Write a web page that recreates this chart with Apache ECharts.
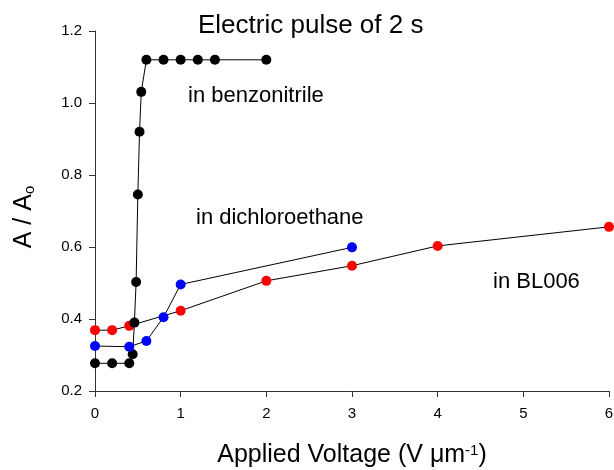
<!DOCTYPE html>
<html>
<head>
<meta charset="utf-8">
<script src="https://cdn.jsdelivr.net/npm/echarts@6/dist/echarts.min.js"></script>
<style>
  html, body { margin: 0; padding: 0; background: #fff; }
  #chart { width: 614px; height: 470px; }
</style>
</head>
<body>
<div id="chart"></div>
<script>
// Normalised absorbance A/Ao versus applied field, 2 s electric pulse
const benzonitrileX = [0, 0.2, 0.4, 0.44, 0.46, 0.48, 0.50, 0.52, 0.54, 0.6, 0.8, 1.0, 1.2, 1.4, 2.0];
const benzonitrileY = [0.277, 0.277, 0.277, 0.302, 0.390, 0.503, 0.746, 0.920, 1.031, 1.120, 1.120, 1.120, 1.120, 1.120, 1.120];

const dichloroethaneX = [0, 0.4, 0.6, 0.8, 1.0, 3.0];
const dichloroethaneY = [0.325, 0.323, 0.339, 0.405, 0.496, 0.599];

const bl006X = [0, 0.2, 0.4, 1.0, 2.0, 3.0, 4.0, 6.0];
const bl006Y = [0.369, 0.369, 0.381, 0.423, 0.506, 0.548, 0.603, 0.656];

const xTicks = { min: 0, max: 6, step: 1 };
const yTicks = { min: 0.2, max: 1.2, step: 0.2 };

const FONT = '"Liberation Sans", Arial, sans-serif';

function pairs(xs, ys) {
  return xs.map((x, i) => [x, ys[i]]);
}

function lineSeries(name, xs, ys, color, z) {
  return {
    name: name,
    type: 'line',
    data: pairs(xs, ys),
    symbol: 'circle',
    symbolSize: 10,
    z: z,
    lineStyle: { color: '#000', width: 1 },
    itemStyle: { color: color, borderWidth: 0 },
    emphasis: { disabled: true },
    animation: false
  };
}

const chart = echarts.init(document.getElementById('chart'), null, { renderer: 'canvas' });

chart.setOption({
  backgroundColor: '#fff',
  animation: false,
  textStyle: { fontFamily: FONT },
  grid: {
    left: 95, right: 5, top: 31, bottom: 79,
    containLabel: false, outerBoundsMode: 'none'
  },
  xAxis: {
    type: 'value',
    min: xTicks.min,
    max: xTicks.max,
    interval: xTicks.step,
    name: 'Applied Voltage (V \u03bcm{sup|-1})',
    nameLocation: 'middle',
    nameGap: 52,
    nameTextStyle: {
      fontFamily: FONT, fontSize: 25, color: '#000',
      rich: { sup: { fontFamily: FONT, fontSize: 15, color: '#000', verticalAlign: 'top' } }
    },
    axisLine: { show: true, onZero: false, lineStyle: { color: '#333', width: 1 } },
    axisTick: { show: true, inside: false, length: 6, lineStyle: { color: '#333' } },
    axisLabel: { color: '#000', fontSize: 15, fontFamily: FONT, margin: 15 },
    splitLine: { show: false }
  },
  yAxis: {
    type: 'value',
    min: yTicks.min,
    max: yTicks.max,
    interval: yTicks.step,
    name: 'A / A{sub|o}',
    nameLocation: 'middle',
    nameRotate: 90,
    nameGap: 58,
    nameTextStyle: {
      fontFamily: FONT, fontSize: 25, color: '#000', padding: [0, 12, 0, 0],
      rich: { sub: { fontFamily: FONT, fontSize: 15, color: '#000', verticalAlign: 'bottom' } }
    },
    axisLine: { show: true, onZero: false, lineStyle: { color: '#333', width: 1 } },
    axisTick: { show: true, inside: false, length: 6, lineStyle: { color: '#333' } },
    axisLabel: {
      color: '#000', fontSize: 15, fontFamily: FONT, margin: 13,
      formatter: v => v.toFixed(1)
    },
    splitLine: { show: false }
  },
  graphic: [
    { type: 'text', x: 198, y: 26,
      style: { text: 'Electric pulse of 2 s', font: '26px ' + FONT, fill: '#000', textVerticalAlign: 'middle' } },
    { type: 'text', x: 188, y: 96,
      style: { text: 'in benzonitrile', font: '22px ' + FONT, fill: '#000', textVerticalAlign: 'middle' } },
    { type: 'text', x: 196, y: 218,
      style: { text: 'in dichloroethane', font: '22px ' + FONT, fill: '#000', textVerticalAlign: 'middle' } },
    { type: 'text', x: 493, y: 282,
      style: { text: 'in BL006', font: '22px ' + FONT, fill: '#000', textVerticalAlign: 'middle' } }
  ],
  series: [
    lineSeries('in BL006', bl006X, bl006Y, '#ff0000', 2),
    lineSeries('in benzonitrile', benzonitrileX, benzonitrileY, '#000000', 3),
    lineSeries('in dichloroethane', dichloroethaneX, dichloroethaneY, '#0000ff', 4)
  ]
});
</script>
</body>
</html>
